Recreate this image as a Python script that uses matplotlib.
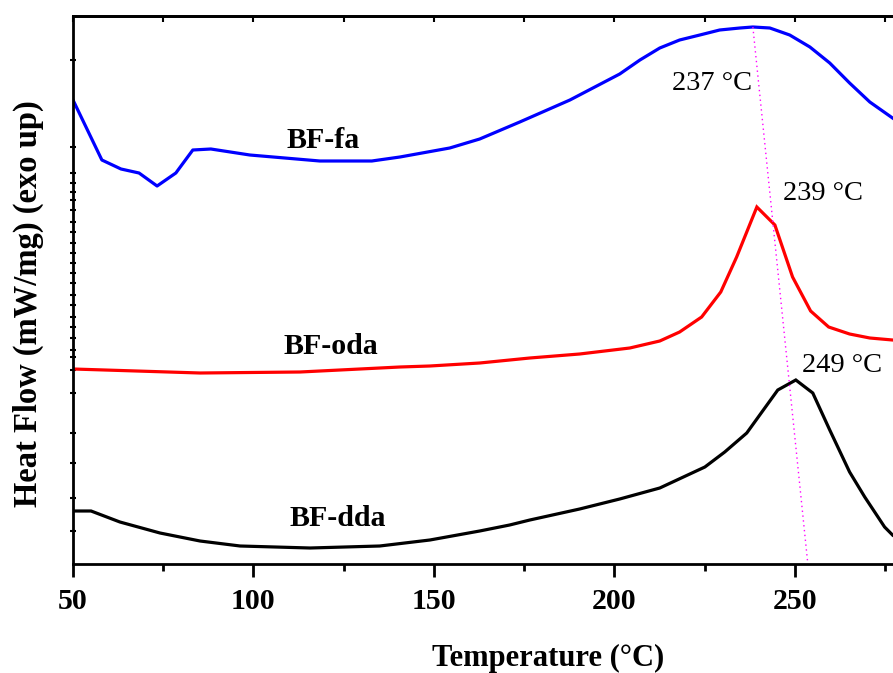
import matplotlib.pyplot as plt
import numpy as np

plt.rcParams['font.family'] = ['Liberation Serif', 'DejaVu Serif']

# DSC curves, temperature (°C) vs heat flow (arbitrary offset units, exo up)
fa_T = [50.0, 58.0, 63.3, 68.3, 73.3, 78.5, 83.2, 88.2, 99.0, 118.4, 132.8, 140.6,
        154.4, 162.7, 173.8, 187.7, 201.5, 207.1, 212.6, 218.1, 223.7, 229.2,
        234.8, 238.4, 243.1, 248.6, 254.2, 259.7, 265.2, 270.8, 277.1]
fa_hf = [464, 404, 395, 391, 378, 391, 414, 415, 409, 403, 403, 407,
         416, 425, 442, 464, 490, 504, 516, 524, 529, 534,
         536, 537, 536, 529, 517, 501, 481, 462, 446]

oda_T = [50.0, 85.2, 112.9, 140.6, 148.9, 162.7, 176.6, 190.4, 204.3, 212.6, 218.1,
         224.2, 229.5, 233.9, 239.5, 244.5, 249.4, 254.4, 259.4, 265.2,
         270.8, 277.1]
oda_hf = [195, 191, 192, 197, 198, 201, 206, 210, 216, 223, 232,
          247, 272, 307, 357, 339, 287, 253, 237, 230,
          226, 224]

dda_T = [50.0, 55.0, 63.0, 74.1, 85.2, 96.3, 115.7, 135.0, 148.9, 162.7, 171.0,
         176.6, 190.4, 201.5, 212.6, 225.1, 230.6, 236.7, 245.3, 250.3, 255.0,
         259.7, 265.2, 269.4, 274.9, 277.1]
dda_hf = [53, 53, 42, 31, 23, 18, 16, 18, 24, 33, 39,
          44, 55, 65, 76, 97, 112, 131, 174, 184, 171,
          134, 92, 67, 37, 29]

# dotted guide through the peaks
guide_T = [238.4, 253.6]
guide_hf = [537, 1]

fig = plt.figure(figsize=(8.93, 6.73), dpi=100)
ax = fig.add_axes([73 / 893, 109 / 673, 830 / 893, 548 / 673])

ax.plot(fa_T, fa_hf, color='#0000ff', lw=2.3)
ax.plot(oda_T, oda_hf, color='#ff0000', lw=2.3, solid_joinstyle='miter')
ax.plot(dda_T, dda_hf, color='black', lw=2.3, solid_joinstyle='miter')
ax.plot(guide_T, guide_hf, color='#ff00ff', lw=1.0, ls=(0, (1, 2.5)))

ax.set_xlim(50, 280)
ax.set_ylim(0, 548)

ax.set_xticks(np.arange(50, 251, 50))
ax.set_xticks(np.arange(75, 280, 50), minor=True)
ytick_px = [60, 147, 173, 183, 192, 200, 210, 222, 232, 243, 253, 263, 273, 283,
            295, 305, 317, 327, 338, 350, 357, 370, 393, 433, 463, 498, 531]
ax.set_yticks([564 - p for p in ytick_px])
ax.set_yticklabels([])
ax.tick_params(axis='x', which='major', direction='out', length=9, width=2,
               labelsize=21.5, pad=8)
ax.tick_params(axis='x', which='minor', direction='out', length=5, width=2)
ax.tick_params(axis='y', direction='inout', length=4, width=1.5)
for lab in ax.get_xticklabels():
    lab.set_fontweight('bold')

# short inward ticks along the top edge
top = ax.secondary_xaxis('top')
top.set_xticks(np.arange(50, 281, 50))
top.set_xticks(np.arange(75, 280, 50), minor=True)
top.tick_params(which='both', direction='in', length=4, width=1.5, labeltop=False)
top.spines['top'].set_linewidth(2)

for s in ['left', 'bottom', 'top']:
    ax.spines[s].set_linewidth(2)
ax.spines['right'].set_visible(False)

ax.text(119.3, 424, 'BF-fa', fontsize=21.5, fontweight='bold', ha='center', va='center')
ax.text(121.5, 217, 'BF-oda', fontsize=21.5, fontweight='bold', ha='center', va='center')
ax.text(123.4, 46, 'BF-dda', fontsize=21.5, fontweight='bold', ha='center', va='center')
ax.text(227.0, 481, '237 °C', fontsize=20.5, ha='center', va='center')
ax.text(257.8, 371, '239 °C', fontsize=20.5, ha='center', va='center')
ax.text(263.0, 198, '249 °C', fontsize=20.5, ha='center', va='center')

fig.text(548 / 893, 1 - 658 / 673, 'Temperature (°C)', fontsize=22, fontweight='bold',
         ha='center', va='center')
fig.text(28 / 893, 1 - 304 / 673, 'Heat Flow (mW/mg) (exo up)', fontsize=23.5,
         fontweight='bold', ha='center', va='center', rotation=90)

fig.savefig('out.png', dpi=100)
